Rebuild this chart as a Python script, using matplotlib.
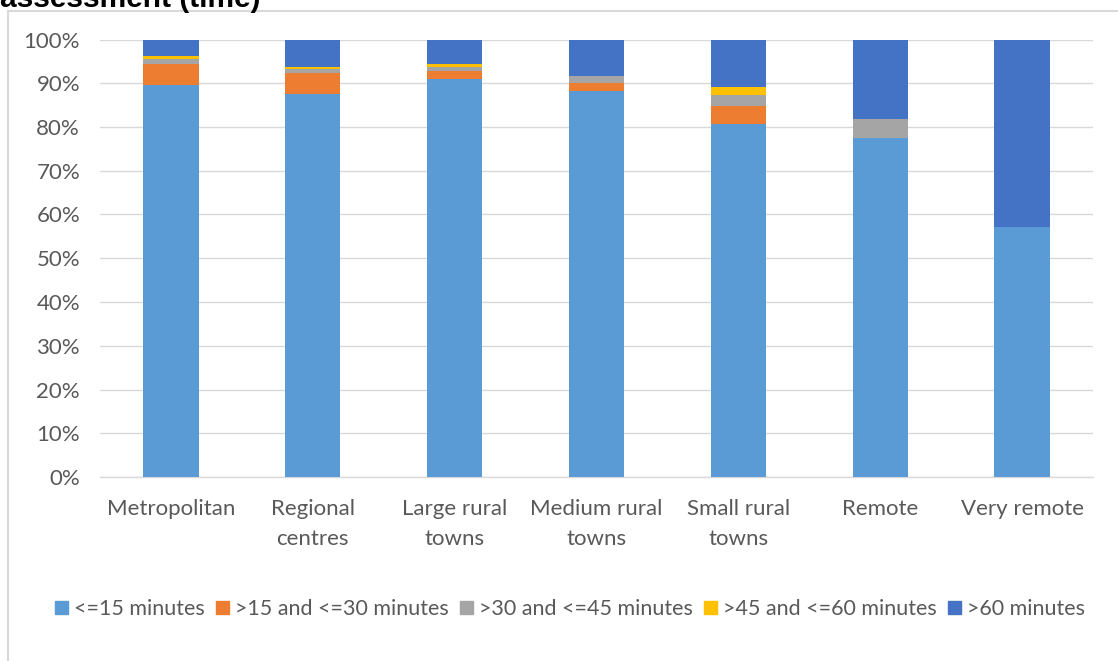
import matplotlib
matplotlib.use("Agg")
import matplotlib.pyplot as plt
from matplotlib.patches import Rectangle
from matplotlib.ticker import PercentFormatter
import numpy as np

categories = ["Metropolitan", "Regional\ncentres", "Large rural\ntowns",
              "Medium rural\ntowns", "Small rural\ntowns", "Remote", "Very remote"]
series_names = ["<=15 minutes", ">15 and <=30 minutes", ">30 and <=45 minutes",
                ">45 and <=60 minutes", ">60 minutes"]
le15 = [89.6, 87.6, 90.9, 88.2, 80.8, 77.4, 57.2]
m15_30 = [4.8, 4.7, 2.0, 1.8, 4.0, 0.0, 0.0]
m30_45 = [1.1, 0.9, 0.9, 1.7, 2.5, 4.4, 0.0]
m45_60 = [0.7, 0.6, 0.6, 0.0, 1.8, 0.0, 0.0]
gt60 = [3.8, 6.2, 5.6, 8.3, 10.9, 18.2, 42.8]
colors = ["#5B9BD5", "#ED7D31", "#A5A5A5", "#FFC000", "#4472C4"]

W, H = 1118, 661
fig = plt.figure(figsize=(W / 100, H / 100), dpi=100)
font = "Lato"
grey_text = "#595959"

# chart frame
fig.patches.append(Rectangle((8 / W, -0.1), 1.2, 1 - 11.5 / H + 0.1,
                             transform=fig.transFigure, fill=False,
                             edgecolor="#D9D9D9", linewidth=1.5))
# title (runs off the top edge of the canvas)
fig.text(0 / W, 1 - 6.7 / H, "assessment (time)", fontsize=21.5, fontweight="bold",
         family="Liberation Sans", ha="left", va="baseline", color="black")

ax = fig.add_axes([100 / W, 1 - 477 / H, (1093 - 100) / W, (477 - 39.5) / H])
x = np.arange(len(categories))
bottom = np.zeros(len(categories))
for name, vals, c in zip(series_names, [le15, m15_30, m30_45, m45_60, gt60], colors):
    v = np.array(vals) / 100.0
    ax.bar(x, v, width=0.39, bottom=bottom, color=c, label=name, zorder=3)
    bottom += v

ax.set_xlim(-0.5, len(categories) - 0.5)
ax.set_ylim(0, 1.0)
ax.set_yticks(np.arange(0, 1.01, 0.1))
ax.yaxis.set_major_formatter(PercentFormatter(1.0, decimals=0))
ax.grid(axis="y", color="#D9D9D9", linewidth=1.0, zorder=0)
ax.set_axisbelow(True)
for s in ["left", "right", "top"]:
    ax.spines[s].set_visible(False)
ax.spines["bottom"].set_color("#D9D9D9")
ax.spines["bottom"].set_linewidth(1.0)
ax.tick_params(axis="both", length=0, labelcolor=grey_text, labelsize=16)
ax.tick_params(axis="y", pad=14.4)
ax.tick_params(axis="x", pad=16)
ax.set_xticks(x)
ax.set_xticklabels(categories, linespacing=1.6)
for lab in ax.get_xticklabels() + ax.get_yticklabels():
    lab.set_family(font)

handles = [Rectangle((0, 0), 1, 1, color=c) for c in colors]
leg = fig.legend(handles, series_names, loc="center", ncol=5,
                 bbox_to_anchor=(570 / W, 1 - 609 / H), frameon=False,
                 handlelength=0.6, handleheight=0.6, handletextpad=0.3,
                 columnspacing=0.5, prop={"family": font, "size": 15.5})
for t in leg.get_texts():
    t.set_color(grey_text)

fig.savefig("out.png", dpi=100)
